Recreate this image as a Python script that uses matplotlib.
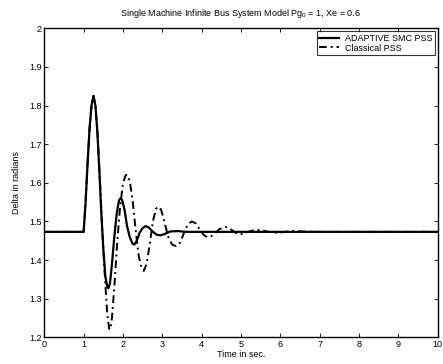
import matplotlib
matplotlib.use("Agg")
import matplotlib.pyplot as plt

# adaptive SMC PSS response
t_smc = [0, 1.00, 1.05, 1.10, 1.15, 1.20, 1.25, 1.30, 1.35, 1.40, 1.45, 1.50,
         1.55, 1.60, 1.63, 1.67, 1.72, 1.78, 1.84, 1.90, 1.94, 1.98, 2.04,
         2.10, 2.17, 2.24, 2.29, 2.35, 2.42, 2.50, 2.58, 2.66, 2.75, 2.85,
         2.95, 3.05, 3.20, 3.40, 3.60, 10]
d_smc = [1.473, 1.473, 1.55, 1.65, 1.74, 1.80, 1.825, 1.80, 1.73, 1.63, 1.52, 1.43,
         1.36, 1.33, 1.327, 1.34, 1.39, 1.46, 1.52, 1.555, 1.56, 1.555, 1.53,
         1.49, 1.46, 1.443, 1.44, 1.45, 1.47, 1.483, 1.488, 1.484, 1.474, 1.466,
         1.464, 1.467, 1.474, 1.475, 1.473, 1.473]

# classical PSS response
t_cls = [0, 1.00, 1.05, 1.10, 1.15, 1.20, 1.25, 1.30, 1.35, 1.40, 1.45, 1.50,
         1.55, 1.60, 1.65, 1.68, 1.72, 1.78, 1.85, 1.92, 2.00, 2.07, 2.12,
         2.18, 2.25, 2.32, 2.40, 2.47, 2.53, 2.60, 2.68, 2.76, 2.84, 2.90,
         2.97, 3.05, 3.15, 3.25, 3.35, 3.45, 3.55, 3.65, 3.75, 3.85, 3.95,
         4.05, 4.15, 4.25, 4.35, 4.45, 4.60, 4.75, 4.90, 5.00, 5.15, 5.35,
         5.50, 5.70, 5.85, 6.05, 6.30, 6.60, 7.00, 10]
d_cls = [1.473, 1.473, 1.55, 1.65, 1.74, 1.80, 1.825, 1.80, 1.73, 1.635, 1.53, 1.43,
         1.34, 1.26, 1.222, 1.22, 1.25, 1.33, 1.44, 1.53, 1.60, 1.62, 1.62,
         1.60, 1.55, 1.48, 1.41, 1.38, 1.372, 1.39, 1.44, 1.50, 1.533, 1.538,
         1.53, 1.50, 1.46, 1.44, 1.436, 1.445, 1.47, 1.493, 1.500, 1.495, 1.48,
         1.465, 1.459, 1.462, 1.470, 1.480, 1.486, 1.479, 1.468, 1.467, 1.472, 1.478,
         1.478, 1.473, 1.471, 1.472, 1.475, 1.474, 1.473, 1.473]

plt.rcParams['font.family'] = ['Liberation Sans', 'DejaVu Sans']
plt.rcParams['mathtext.fontset'] = 'custom'
plt.rcParams['mathtext.rm'] = 'Liberation Sans'
plt.rcParams['mathtext.it'] = 'Liberation Sans'

fig = plt.figure(figsize=(4.43, 3.64), dpi=100)
ax = fig.add_axes([0.100, 0.0733, 0.888, 0.849])

ax.plot(t_smc, d_smc, c="black", lw=1.6, label="ADAPTIVE SMC PSS")
ax.plot(t_cls, d_cls, c="black", lw=1.4, ls=(0, (4, 2, 1, 2)),
        label="Classical PSS")

ax.set_xlim(0, 10)
ax.set_ylim(1.2, 2)
ax.set_xticks(range(0, 11))
ax.set_yticks([1.2, 1.3, 1.4, 1.5, 1.6, 1.7, 1.8, 1.9, 2])
ax.set_yticklabels(["1.2", "1.3", "1.4", "1.5", "1.6", "1.7", "1.8", "1.9", "2"])
ax.tick_params(axis="both", direction="in", top=True, right=True,
               labelsize=6.5, length=3, width=0.6, pad=2)
for s in ax.spines.values():
    s.set_linewidth(1.0)

ax.set_title("Single Machine Infinite Bus System Model Pg$_0$ = 1, Xe = 0.6",
             fontsize=6.5, pad=9)
ax.set_xlabel("Time in sec.", fontsize=6.5, labelpad=1)
ax.set_ylabel("Delta in radians", fontsize=6.5, labelpad=6)

leg = ax.legend(loc="upper right", fontsize=6.5, frameon=True, fancybox=False,
                edgecolor="black", borderaxespad=0.3, handlelength=2.2,
                borderpad=0.3, labelspacing=0.1, handletextpad=0.6)
leg.get_frame().set_linewidth(0.8)

fig.savefig("out.png", dpi=100)
